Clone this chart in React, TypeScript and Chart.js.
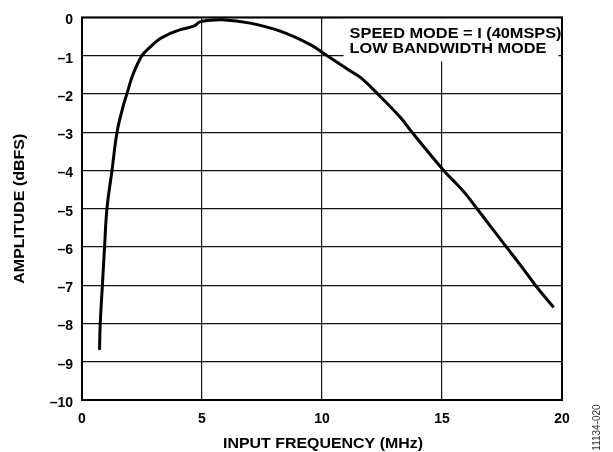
import React, { useEffect, useRef } from "react";
import { Chart, registerables } from "chart.js";

Chart.register(...registerables);

// Data
const freqMHz = [
  0.73, 0.76, 0.85, 0.94, 1.04, 1.25, 1.46, 1.71, 1.87, 2.12, 2.5, 2.85, 3.26, 3.68, 4.1,
  4.65, 4.9, 5.14, 5.83, 7.01, 8.26, 9.51, 10.14, 11.18, 11.6, 12.29, 13.26, 13.75, 15.07,
  15.6, 15.97, 16.18, 16.46, 17.07, 17.68, 18.3, 18.89, 19.65,
];
const amplitudeDbfs = [
  -8.69, -8.0, -7.0, -6.0, -5.0, -4.0, -3.0, -2.33, -2.0, -1.5, -1.0, -0.77, -0.55, -0.42,
  -0.32, -0.23, -0.12, -0.09, -0.06, -0.15, -0.36, -0.71, -0.97, -1.4, -1.57, -1.98, -2.61,
  -3.0, -4.0, -4.35, -4.6, -4.77, -5.0, -5.5, -6.0, -6.5, -7.0, -7.58,
];
const xTicks = [0, 5, 10, 15, 20];
const yTicks = [0, -1, -2, -3, -4, -5, -6, -7, -8, -9, -10];
const annotationLines = ["SPEED MODE = I (40MSPS)", "LOW BANDWIDTH MODE"];
const xTitle = "INPUT FREQUENCY (MHz)";
const yTitle = "AMPLITUDE (dBFS)";
const figureId = "11134-020";

const FONT = "'Liberation Sans', Arial, Helvetica, sans-serif";

function drawText(
  ctx: CanvasRenderingContext2D,
  text: string,
  x: number,
  y: number,
  font: string,
  sx: number,
  align: CanvasTextAlign,
  rotate = 0,
  color = "#000"
) {
  ctx.save();
  ctx.translate(x, y);
  if (rotate) ctx.rotate(rotate);
  ctx.scale(sx, 1);
  ctx.font = font;
  ctx.fillStyle = color;
  ctx.textAlign = align;
  ctx.textBaseline = "alphabetic";
  ctx.fillText(text, 0, 0);
  ctx.restore();
}

const decorPlugin = {
  id: "decor",
  beforeDatasetsDraw(chart: any) {
    const { ctx, chartArea } = chart;
    const xs = chart.scales.x;
    // annotation box
    ctx.save();
    ctx.fillStyle = "#fff";
    const bx0 = xs.getPixelForValue(10.9);
    const bx1 = xs.getPixelForValue(19.85);
    ctx.fillRect(bx0, chartArea.top + 1, bx1 - bx0, 43);
    ctx.restore();
    const lx = xs.getPixelForValue(11.15);
    drawText(ctx, annotationLines[0], lx, chartArea.top + 20.3, `bold 15px ${FONT}`, 1.089, "left");
    drawText(ctx, annotationLines[1], lx, chartArea.top + 35.5, `bold 15px ${FONT}`, 1.089, "left");
    // plot border
    ctx.save();
    ctx.strokeStyle = "#000";
    ctx.lineWidth = 2;
    ctx.strokeRect(chartArea.left, chartArea.top, chartArea.right - chartArea.left, chartArea.bottom - chartArea.top);
    ctx.restore();
  },
  afterDraw(chart: any) {
    const { ctx, chartArea } = chart;
    const cx = (chartArea.left + chartArea.right) / 2;
    const cy = (chartArea.top + chartArea.bottom) / 2;
    drawText(ctx, xTitle, cx + 1, 448.3, `bold 15px ${FONT}`, 1.062, "center");
    drawText(ctx, yTitle, 23.5, cy, `bold 15px ${FONT}`, 1.065, "center", -Math.PI / 2);
    drawText(ctx, figureId, 600, 427.5, `10px ${FONT}`, 1, "center", -Math.PI / 2, "#333");
  },
};

export default function App() {
  const ref = useRef<HTMLCanvasElement | null>(null);

  useEffect(() => {
    document.body.style.margin = "0";
    const canvas = ref.current;
    if (!canvas) return;
    const data = freqMHz.map((f, i) => ({ x: f, y: amplitudeDbfs[i] }));
    const chart = new Chart(canvas, {
      type: "line",
      data: {
        datasets: [
          {
            data,
            borderColor: "#000",
            borderWidth: 3,
            pointRadius: 0,
            tension: 0.4,
            fill: false,
            clip: false as any,
          },
        ],
      },
      options: {
        animation: false,
        responsive: false,
        devicePixelRatio: 1,
        layout: { padding: { left: 0, right: 51, top: 14, bottom: 0 } },
        plugins: { legend: { display: false }, tooltip: { enabled: false } },
        scales: {
          x: {
            type: "linear",
            min: 0,
            max: 20,
            afterBuildTicks: (s: any) => {
              s.ticks = xTicks.map((v) => ({ value: v }));
            },
            afterFit: (s: any) => {
              s.height = 52;
            },
            grid: { color: "#111", lineWidth: 1.2, drawTicks: false },
            border: { display: false },
            ticks: {
              color: "#000",
              font: { family: FONT, size: 14, weight: "bold" },
              padding: 11,
              maxRotation: 0,
              autoSkip: false,
            },
          },
          y: {
            type: "linear",
            min: -10,
            max: 0,
            afterBuildTicks: (s: any) => {
              s.ticks = yTicks.map((v) => ({ value: v }));
            },
            afterFit: (s: any) => {
              s.width = 82;
            },
            grid: { color: "#111", lineWidth: 1.2, drawTicks: false },
            border: { display: false },
            ticks: {
              color: "#000",
              font: { family: FONT, size: 14, weight: "bold" },
              padding: 9,
              labelOffset: 3,
              autoSkip: false,
              callback: (v: any) => (Number(v) < 0 ? "\u2013" + Math.abs(Number(v)) : String(v)),
            },
          },
        },
      },
      plugins: [decorPlugin],
    });
    return () => chart.destroy();
  }, []);

  return (
    <div style={{ position: "fixed", left: 0, top: 0, width: 613, height: 452, background: "#fff" }}>
      <canvas ref={ref} width={613} height={452} style={{ width: 613, height: 452 }} />
    </div>
  );
}
